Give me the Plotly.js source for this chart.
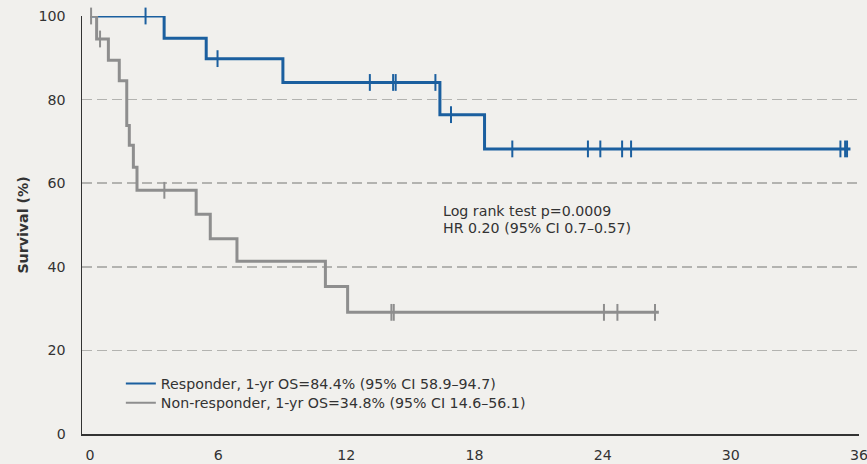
<!DOCTYPE html>
<html>
<head>
<meta charset="utf-8">
<script src="https://cdn.plot.ly/plotly-3.0.1.min.js"></script>
<style>html,body{margin:0;padding:0;background:#f1f0ed;}</style>
</head>
<body>
<div id="chart" style="width:867px;height:464px;"></div>
<script>
// Responder (Kaplan-Meier step points, months / survival %)
const responderTime = [0, 3.47, 5.44, 9.03, 16.38, 18.47, 35.6];
const responderSurv = [100, 94.7, 89.8, 84.1, 76.4, 68.2, 68.2];
const responderCensor = [2.6, 5.97, 13.1, 14.19, 14.31, 16.17, 16.9, 19.77, 23.31, 23.89, 24.91, 25.33, 35.13, 35.35, 35.44];

// Non-responder
const nonTime = [0, 0.31, 0.86, 1.37, 1.72, 1.84, 2.03, 2.2, 4.97, 5.63, 6.88, 11.02, 12.06, 26.63];
const nonSurv = [100, 94.5, 89.4, 84.5, 73.8, 69.1, 63.8, 58.3, 52.6, 46.7, 41.3, 35.3, 29.1, 29.1];
const nonCensor = [0.05, 0.47, 3.48, 14.11, 14.22, 24.06, 24.69, 26.45];

const xTicks = [0, 6, 12, 18, 24, 30, 36];
const yTicks = [0, 20, 40, 60, 80, 100];

const responderLabel = "Responder, 1-yr OS=84.4% (95% CI 58.9–94.7)";
const nonLabel = "Non-responder, 1-yr OS=34.8% (95% CI 14.6–56.1)";
const noteLines = ["Log rank test p=0.0009", "HR 0.20 (95% CI 0.7–0.57)"];

const blue = "#1b5f9f";
const gray = "#8e8e8e";
const FONT = "DejaVu Sans, sans-serif";
const FS = 14.2;

function stepAt(times, surv, t) {
  let v = surv[0];
  for (let i = 0; i < times.length; i++) { if (times[i] <= t) v = surv[i]; }
  return v;
}

const traces = [
  {x: responderTime, y: responderSurv, type: "scatter", mode: "lines", line: {shape: "hv", color: blue, width: 3},
   showlegend: false, cliponaxis: false, hoverinfo: "skip"},
  {x: responderCensor, y: responderCensor.map(t => stepAt(responderTime, responderSurv, t)), type: "scatter", mode: "markers",
   marker: {symbol: "line-ns", size: 12, line: {color: blue, width: 2}}, showlegend: false, cliponaxis: false, hoverinfo: "skip"},
  {x: nonTime, y: nonSurv, type: "scatter", mode: "lines", line: {shape: "hv", color: gray, width: 3},
   showlegend: false, cliponaxis: false, hoverinfo: "skip"},
  {x: nonCensor, y: nonCensor.map(t => stepAt(nonTime, nonSurv, t)), type: "scatter", mode: "markers",
   marker: {symbol: "line-ns", size: 12, line: {color: gray, width: 2}}, showlegend: false, cliponaxis: false, hoverinfo: "skip"},
  // legend entries
  {x: [null], y: [null], type: "scatter", mode: "lines", line: {color: blue, width: 2}, name: responderLabel, legend: "legend"},
  {x: [null], y: [null], type: "scatter", mode: "lines", line: {color: gray, width: 2}, name: nonLabel, legend: "legend2"}
];

const legendBase = {xanchor: "left", yanchor: "middle", bgcolor: "rgba(0,0,0,0)",
                    font: {family: FONT, size: FS, color: "#333"}};

const layout = {
  width: 867, height: 464,
  paper_bgcolor: "#f1f0ed", plot_bgcolor: "#f1f0ed",
  margin: {l: 82, r: 8, t: 16, b: 30},
  font: {family: FONT, size: FS, color: "#333"},
  showlegend: true,
  legend: Object.assign({x: 0.05, y: 0.12}, legendBase),
  legend2: Object.assign({x: 0.05, y: 0.074}, legendBase),
  xaxis: {range: [-0.375, 36], tickvals: xTicks, ticktext: xTicks.map(String), showgrid: false, zeroline: false,
          showline: true, linecolor: "#333", linewidth: 1.5, ticks: "", ticklabelstandoff: 7,
          ticklabeloverflow: "allow", tickfont: {family: FONT, size: FS, color: "#333"}},
  yaxis: {range: [0, 100], tickvals: yTicks, ticktext: yTicks.map(String), showgrid: true, gridcolor: "#b3b3b0",
          gridwidth: 1.5, griddash: "10px,5px", zeroline: false, showline: true, linecolor: "#333", linewidth: 1.5,
          ticks: "", ticklabelstandoff: 12, tickfont: {family: FONT, size: FS, color: "#333"},
          title: {text: "<b>Survival (%)</b>", font: {family: FONT, size: FS, color: "#333"}, standoff: 6}},
  annotations: [
    {x: 16.5, y: 53.4, xref: "x", yref: "y", xanchor: "left", yanchor: "middle", align: "left", borderpad: 0,
     text: noteLines[0], showarrow: false, font: {family: FONT, size: FS, color: "#333"}},
    {x: 16.5, y: 49.2, xref: "x", yref: "y", xanchor: "left", yanchor: "middle", align: "left", borderpad: 0,
     text: noteLines[1], showarrow: false, font: {family: FONT, size: FS, color: "#333"}}
  ]
};

Plotly.newPlot("chart", traces, layout, {displayModeBar: false, staticPlot: true});
</script>
</body>
</html>
